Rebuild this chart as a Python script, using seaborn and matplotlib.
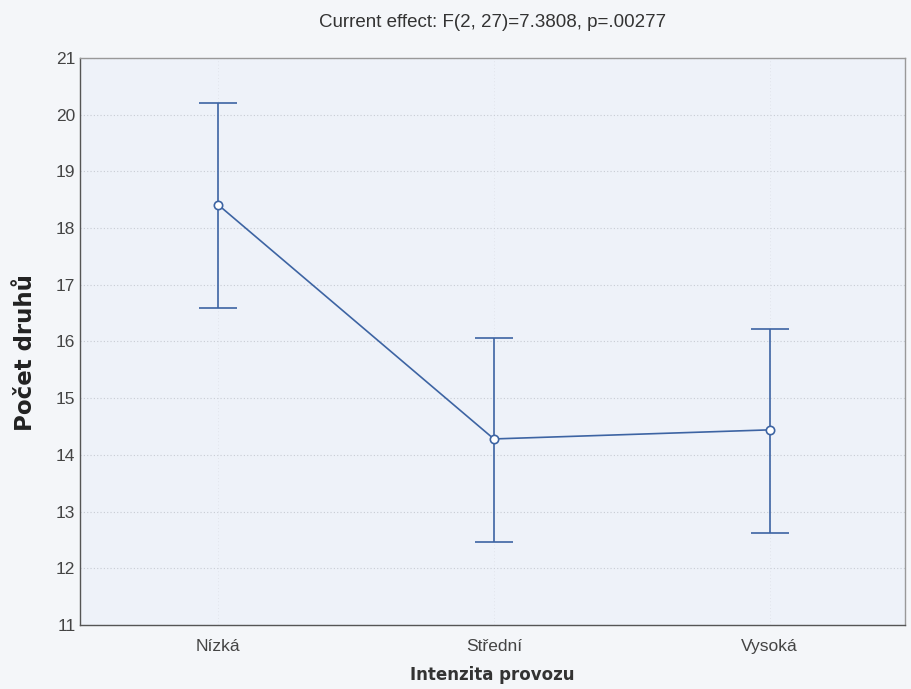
import matplotlib
matplotlib.use("Agg")
import matplotlib.pyplot as plt
import seaborn as sns
import pandas as pd

categories = ["Nízká", "Střední", "Vysoká"]
means = [18.41, 14.28, 14.44]
lower = [16.59, 12.46, 12.62]
upper = [20.21, 16.06, 16.22]
yticks = [11, 12, 13, 14, 15, 16, 17, 18, 19, 20, 21]
title = "Current effect: F(2, 27)=7.3808, p=.00277"
xlabel = "Intenzita provozu"
ylabel = "Počet druhů"

df = pd.DataFrame({"cat": categories, "mean": means, "lo": lower, "hi": upper})

sns.set_style("white")
plt.rcParams["font.family"] = ["Liberation Sans", "DejaVu Sans"]

color = "#3d64a3"
fig = plt.figure(figsize=(9.12, 6.89), dpi=100, facecolor="#f4f6f9")
ax = fig.add_axes([0.088, 0.093, 0.904, 0.823])
ax.set_facecolor("#eef2f9")

sns.pointplot(data=df, x="cat", y="mean", order=categories, errorbar=None,
              color=color, markers="o", linestyles="-", ax=ax,
              markersize=6, linewidth=1.2,
              markerfacecolor="white", markeredgecolor=color, markeredgewidth=1.2,
              zorder=3)
xs = range(len(categories))
ax.errorbar(list(xs), df["mean"],
            yerr=[df["mean"] - df["lo"], df["hi"] - df["mean"]],
            fmt="none", ecolor=color, elinewidth=1.2, capsize=14, capthick=1.2, zorder=2)

ax.set_xlim(-0.5, 2.49)
ax.set_ylim(11, 21)
ax.set_yticks(yticks)
ax.set_yticklabels([str(t) for t in yticks])
ax.grid(True, axis="y", linestyle=(0, (1, 2)), color="#c8ccd4", linewidth=0.8)
ax.grid(True, axis="x", linestyle=(0, (1, 3)), color="#dde0e6", linewidth=0.6)
ax.set_axisbelow(True)

for s in ax.spines.values():
    s.set_color("#555555")
    s.set_linewidth(1.0)
ax.spines["top"].set_color("#999999")
ax.spines["right"].set_color("#999999")

ax.tick_params(axis="both", direction="in", length=4, color="#444444",
               labelsize=12.5, labelcolor="#444444")
ax.tick_params(axis="x", pad=10)

ax.set_title(title, fontsize=13.5, color="#333333", pad=22)
ax.set_xlabel(xlabel, fontsize=12, fontweight="bold", color="#333333", labelpad=9,
              family=["DejaVu Sans"])
ax.set_ylabel(ylabel, fontsize=16.5, fontweight="bold", color="#222222",
              family=["DejaVu Sans"])
ax.yaxis.set_label_coords(-0.052, 0.48)

fig.savefig("out.png", dpi=100, facecolor=fig.get_facecolor())
